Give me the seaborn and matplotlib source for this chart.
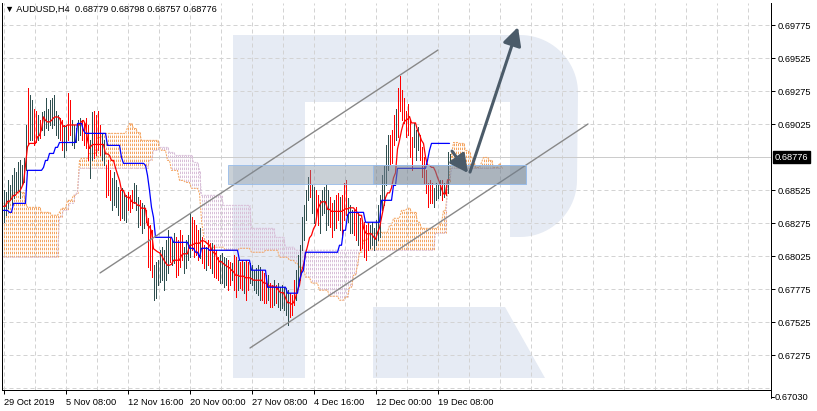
import numpy as np
import pandas as pd
import matplotlib
matplotlib.use("Agg")
import matplotlib.pyplot as plt
import seaborn as sns
from matplotlib.patches import Polygon, Rectangle, FancyArrowPatch
from matplotlib.transforms import blended_transform_factory

# ---------------- data ----------------
symbol_title = "▼ AUDUSD,H4  0.68779 0.68798 0.68757 0.68776"
last_price = 0.68776

high = [0.68524, 0.68508, 0.68599, 0.68561, 0.68637, 0.68690, 0.68660, 0.68735, 0.68750, 0.68713,
        0.68766, 0.69015, 0.69295, 0.69242, 0.69204, 0.69143, 0.69128, 0.69091, 0.69053, 0.69113,
        0.69128, 0.69219, 0.69143, 0.69204, 0.69219, 0.69242, 0.69128, 0.69091, 0.69068, 0.69053,
        0.69015, 0.69015, 0.69264, 0.69204, 0.69053, 0.69015, 0.68992, 0.69053, 0.69068, 0.69053,
        0.69038, 0.69068, 0.69015, 0.68902, 0.69113, 0.69128, 0.69091, 0.69128, 0.69015, 0.68955,
        0.68902, 0.68713, 0.68750, 0.68675, 0.68614, 0.68660, 0.68599, 0.68546, 0.68524, 0.68539,
        0.68501, 0.68486, 0.68508, 0.68486, 0.68524, 0.68577, 0.68561, 0.68471, 0.68448, 0.68425,
        0.68410, 0.68372, 0.68312, 0.68259, 0.68221, 0.67957, 0.67979, 0.67994, 0.68070, 0.68093,
        0.68070, 0.68146, 0.68221, 0.68161, 0.68146, 0.68199, 0.68168, 0.68146, 0.68221, 0.68184,
        0.68093, 0.68146, 0.68184, 0.68350, 0.68319, 0.68297, 0.68259, 0.68221, 0.68236, 0.68168,
        0.68108, 0.68093, 0.68146, 0.68123, 0.68123, 0.68108, 0.68070, 0.68017, 0.68032, 0.68047,
        0.68017, 0.68010, 0.67994, 0.67979, 0.67972, 0.68032, 0.68017, 0.67994, 0.67979, 0.67994,
        0.67979, 0.67994, 0.67979, 0.67972, 0.67957, 0.67919, 0.67934, 0.67957, 0.67941, 0.67919,
        0.67896, 0.67881, 0.67881, 0.67821, 0.67805, 0.67843, 0.67805, 0.67821, 0.67790, 0.67805,
        0.67790, 0.67783, 0.67768, 0.67745, 0.67730, 0.67843, 0.67919, 0.68032, 0.68108, 0.68319,
        0.68410, 0.68524, 0.68622, 0.68675, 0.68561, 0.68546, 0.68524, 0.68486, 0.68448, 0.68524,
        0.68546, 0.68561, 0.68524, 0.68471, 0.68425, 0.68448, 0.68486, 0.68501, 0.68471, 0.68486,
        0.68577, 0.68599, 0.68463, 0.68410, 0.68372, 0.68372, 0.68395, 0.68350, 0.68312, 0.68297,
        0.68282, 0.68259, 0.68274, 0.68259, 0.68282, 0.68236, 0.68297, 0.68410, 0.68486, 0.68637,
        0.68713, 0.68864, 0.68939, 0.68939, 0.68977, 0.69091, 0.69143, 0.69302, 0.69393, 0.69280,
        0.69219, 0.69128, 0.69181, 0.69053, 0.68924, 0.69030, 0.68977, 0.69000, 0.68939, 0.68849,
        0.68773, 0.68675, 0.68577, 0.68599, 0.68577, 0.68539, 0.68577, 0.68561, 0.68599, 0.68599,
        0.68577, 0.68561, 0.68811, 0.68798]

low = [0.68282, 0.68335, 0.68388, 0.68448, 0.68410, 0.68463, 0.68508, 0.68524, 0.68463, 0.68561,
       0.68584, 0.68675, 0.68864, 0.68902, 0.68902, 0.68864, 0.68886, 0.68902, 0.68917, 0.68977,
       0.68939, 0.68992, 0.68977, 0.69015, 0.68992, 0.69015, 0.68939, 0.68917, 0.68902, 0.68826,
       0.68773, 0.68826, 0.68902, 0.68939, 0.68864, 0.68841, 0.68886, 0.68902, 0.68939, 0.68902,
       0.68864, 0.68841, 0.68750, 0.68614, 0.68750, 0.68766, 0.68788, 0.68826, 0.68788, 0.68750,
       0.68713, 0.68471, 0.68486, 0.68448, 0.68372, 0.68410, 0.68395, 0.68335, 0.68297, 0.68312,
       0.68297, 0.68282, 0.68372, 0.68357, 0.68388, 0.68425, 0.68372, 0.68244, 0.68259, 0.68199,
       0.68236, 0.68282, 0.67941, 0.67919, 0.67866, 0.67692, 0.67707, 0.67805, 0.67828, 0.67843,
       0.67768, 0.67843, 0.67896, 0.67979, 0.67957, 0.67972, 0.67866, 0.67881, 0.67941, 0.67994,
       0.67896, 0.67934, 0.67994, 0.68017, 0.68070, 0.68017, 0.68032, 0.67994, 0.68010, 0.67972,
       0.67934, 0.67919, 0.67957, 0.67934, 0.67896, 0.67866, 0.67858, 0.67843, 0.67821, 0.67821,
       0.67790, 0.67805, 0.67768, 0.67805, 0.67843, 0.67768, 0.67715, 0.67768, 0.67783, 0.67768,
       0.67745, 0.67692, 0.67768, 0.67821, 0.67805, 0.67768, 0.67745, 0.67730, 0.67692, 0.67692,
       0.67669, 0.67669, 0.67692, 0.67639, 0.67639, 0.67654, 0.67669, 0.67639, 0.67616, 0.67631,
       0.67616, 0.67579, 0.67503, 0.67563, 0.67579, 0.67654, 0.67692, 0.67790, 0.67843, 0.68070,
       0.68146, 0.68297, 0.68448, 0.68471, 0.68350, 0.68274, 0.68312, 0.68259, 0.68199, 0.68335,
       0.68350, 0.68221, 0.68259, 0.68244, 0.68168, 0.68221, 0.68236, 0.68297, 0.68221, 0.68184,
       0.68297, 0.68335, 0.68282, 0.68199, 0.68199, 0.68184, 0.68146, 0.68108, 0.68070, 0.68085,
       0.68017, 0.67994, 0.68070, 0.68085, 0.68108, 0.68070, 0.68108, 0.68146, 0.68168, 0.68372,
       0.68410, 0.68561, 0.68675, 0.68713, 0.68728, 0.68864, 0.68902, 0.68924, 0.69128, 0.69053,
       0.69030, 0.68924, 0.68939, 0.68773, 0.68675, 0.68849, 0.68750, 0.68826, 0.68750, 0.68622,
       0.68577, 0.68501, 0.68395, 0.68425, 0.68425, 0.68395, 0.68448, 0.68463, 0.68486, 0.68448,
       0.68471, 0.68486, 0.68501, 0.68757]

# bars drawn in the "bear" colour (index of the bar)
bearish_bars = [12, 15, 16, 18, 28, 29, 32, 33, 39, 40, 41, 42, 45, 46, 47, 48, 51, 52, 53, 58,
                62, 63, 64, 68, 71, 72, 73, 74, 83, 86, 87, 88, 89, 94, 95, 96, 97, 99, 100, 102,
                103, 105, 106, 107, 112, 113, 115, 116, 118, 119, 121, 122, 129, 130, 131, 133, 134, 136, 143, 144,
                145, 153, 156, 157, 163, 164, 166, 167, 169, 170, 171, 175, 176, 178, 179, 180, 181, 182, 193, 194,
                195, 197, 198, 199, 200, 201, 202, 203, 204, 208, 209, 210, 211, 212, 213, 214, 219, 221]

# Kijun-sen (step line): bar index where a level starts, level
kijun_bars = [0, 3, 5, 12, 20, 21, 23, 26, 28, 37, 40, 41, 52, 59, 60, 71, 72, 73, 74, 75,
              76, 85, 93, 96, 98, 99, 103, 118, 124, 132, 142, 148, 149, 150, 151, 168, 170, 172, 173, 181,
              189, 195, 197, 212, 213, 214]
kijun_vals = [0.68372, 0.68357, 0.68425, 0.68675, 0.68697, 0.68750, 0.68803, 0.68849, 0.68886, 0.69030,
              0.68977, 0.68955, 0.68864, 0.68773, 0.68728, 0.68713, 0.68637, 0.68524, 0.68395, 0.68319,
              0.68168, 0.68130, 0.68085, 0.68055, 0.68017, 0.68085, 0.68070, 0.67994, 0.67919, 0.67790,
              0.67745, 0.67843, 0.67896, 0.67919, 0.68055, 0.68108, 0.68221, 0.68335, 0.68357, 0.68282,
              0.68448, 0.68561, 0.68690, 0.68750, 0.68826, 0.68879]

# Senkou span A / B (already shifted 26 bars forward)
span_a_bars = [0, 4, 5, 11, 12, 19, 24, 28, 29, 32, 35, 37, 38, 39, 43, 47, 50, 62, 63, 65,
               67, 69, 78, 79, 82, 84, 88, 91, 94, 98, 99, 100, 101, 103, 111, 118, 124, 131, 138, 143,
               146, 148, 151, 154, 158, 163, 168, 171, 173, 175, 177, 178, 180, 183, 189, 193, 195, 199, 202, 204,
               207, 209, 218, 220, 222, 223, 224, 225, 228, 231, 233, 234, 236, 239, 240, 243, 245, 248, 249]
span_a_vals = [0.68425, 0.68486, 0.68508, 0.68425, 0.68395, 0.68357, 0.68335, 0.68357, 0.68388, 0.68448,
               0.68486, 0.68508, 0.68750, 0.68766, 0.68803, 0.68924, 0.68955, 0.69000, 0.69030, 0.68992,
               0.68962, 0.68902, 0.68849, 0.68826, 0.68750, 0.68675, 0.68599, 0.68584, 0.68539, 0.68501,
               0.68297, 0.68184, 0.68123, 0.68093, 0.68070, 0.68085, 0.68055, 0.68070, 0.68017, 0.67994,
               0.67972, 0.67941, 0.67866, 0.67821, 0.67768, 0.67722, 0.67692, 0.67715, 0.67790, 0.67881,
               0.67957, 0.68055, 0.68146, 0.68199, 0.68206, 0.68259, 0.68312, 0.68372, 0.68388, 0.68357,
               0.68282, 0.68236, 0.68274, 0.68372, 0.68524, 0.68637, 0.68788, 0.68886, 0.68879, 0.68826,
               0.68811, 0.68766, 0.68697, 0.68735, 0.68773, 0.68750, 0.68697, 0.68728, 0.68697]
span_b_bars = [0, 28, 30, 33, 36, 38, 73, 75, 78, 83, 86, 95, 98, 99, 110, 124, 136, 141, 146, 216,
               222, 224]
span_b_vals = [0.68017, 0.68319, 0.68372, 0.68425, 0.68501, 0.68690, 0.68750, 0.68826, 0.68849, 0.68811,
               0.68788, 0.68735, 0.68675, 0.68486, 0.68410, 0.68236, 0.68168, 0.68093, 0.68070, 0.68199,
               0.68577, 0.68690]

price_ticks = [0.69775, 0.69525, 0.69275, 0.69025, 0.68525, 0.68275, 0.68025, 0.67775, 0.67525, 0.67275]
bottom_price = 0.67030
time_label_bars = [0, 31, 62, 93, 124, 155, 186, 217]
time_labels = ["29 Oct 2019", "5 Nov 08:00", "12 Nov 16:00", "20 Nov 00:00",
               "27 Nov 08:00", "4 Dec 16:00", "12 Dec 00:00", "19 Dec 08:00"]

# analyst drawings, in (bar, price)
channel_upper = [(48.25, 0.67898), (217.25, 0.69586)]
channel_lower = [(123.25, 0.67330), (292.25, 0.69026)]
zone_outer = [(112.25, 0.68571), (261.25, 0.68715)]
zone_inner = [(184.75, 0.68571), (261.25, 0.68715)]
arrow_down = [(224.25, 0.68821), (232.25, 0.68655)]
arrow_up = [(233.25, 0.68662), (257.25, 0.69760)]

# ---------------- figure ----------------
sns.set_theme(style="white")
plt.rcParams["font.family"] = ["Liberation Sans", "DejaVu Sans"]
FS = 6.7

W, H = 817, 411
fig = plt.figure(figsize=(W / 100, H / 100), dpi=100)
fig.patch.set_facecolor("white")

# watermark (pixel coordinates)
bg = fig.add_axes([0, 0, 1, 1], zorder=0)
bg.set_xlim(0, W)
bg.set_ylim(H, 0)
bg.axis("off")
wm = "#e6ebf4"


def arc(cx, cy, r, a0, a1, n=24):
    t = np.radians(np.linspace(a0, a1, n))
    return np.column_stack([cx + r * np.cos(t), cy + r * np.sin(t)])


body = np.vstack([[[233, 35]], arc(520, 93, 58, -90, 0), arc(520, 180, 57, 0, 90),
                  [[510, 237], [510, 102], [305, 102], [305, 378], [233, 378]]])
bg.add_patch(Polygon(body, closed=True, facecolor=wm, edgecolor="none"))
bg.add_patch(Polygon([[373, 307], [505, 307], [545, 378], [373, 378]], closed=True,
                     facecolor=wm, edgecolor="none"))

L, R, T, B = 2, 771, 3, 390
ax = fig.add_axes([L / W, 1 - B / H, (R - L) / W, (B - T) / H], zorder=1)
ax.patch.set_alpha(0)
n = len(high)
bars = np.arange(n)
ax.set_xlim(-0.75, -0.75 + (R - L) / 2)
ylo, yhi = 0.67012, 0.69942
ax.set_ylim(ylo, yhi)

# grid
grid_kw = dict(color="#d3d3d3", lw=0.72, linestyle=(0, (4, 3)), zorder=0.5)
for p in price_ticks + [bottom_price]:
    ax.axhline(p, **grid_kw)
for g in np.arange(0, 384, 15.5):
    ax.axvline(g, **grid_kw)
ax.axhline(last_price, color="#cccccc", lw=0.72, zorder=0.8)


def hold(idx, vals, length):
    s = pd.Series(np.nan, index=np.arange(length))
    s.loc[idx] = vals
    return s.ffill().to_numpy()


# ichimoku cloud
n_span = n + 26
span_a = hold(span_a_bars, span_a_vals, n_span)
span_b = hold(span_b_bars, span_b_vals, n_span)
js = np.arange(n_span)
up = np.maximum(span_a, span_b)
lo = np.minimum(span_a, span_b)
px_per_v = (B - T) / (yhi - ylo)
period = 4.0
offs = ((lo - ylo) * px_per_v) % period
orange, thistle = "#f4a460", "#d8bfd8"
cloud_cols = np.where(span_a >= span_b, orange, thistle)
ax.vlines(js, lo, up, colors=cloud_cols, linestyles=[(o, (2.5, 1.5)) for o in offs],
          lw=0.72, zorder=1, antialiased=True)
sns.lineplot(x=js, y=span_a, ax=ax, color=orange, lw=0.72, linestyle=(0, (2, 1)),
             estimator=None, sort=False, zorder=1.5)
sns.lineplot(x=js, y=span_b, ax=ax, color=thistle, lw=0.72, linestyle=(0, (2, 1)),
             estimator=None, sort=False, zorder=1.5)

# price bars
bar_cols = np.where(np.isin(bars, bearish_bars), "#ff0000", "#2f4f4f")
ax.vlines(bars, low, high, colors=bar_cols, lw=0.72, zorder=2, antialiased=False)

# tenkan / kijun
hs, ls_ = pd.Series(high), pd.Series(low)
tenkan = ((hs.rolling(9, min_periods=1).max() + ls_.rolling(9, min_periods=1).min()) / 2).to_numpy()
kijun = hold(kijun_bars, kijun_vals, n)
sns.lineplot(x=bars, y=tenkan, ax=ax, color="#ff0000", lw=0.9, estimator=None, sort=False, zorder=3)
sns.lineplot(x=bars, y=kijun, ax=ax, color="#0000ff", lw=0.9, estimator=None, sort=False, zorder=3)

# channel
for ch in (channel_upper, channel_lower):
    ax.plot([ch[0][0], ch[1][0]], [ch[0][1], ch[1][1]], color="#888888", lw=1.0, zorder=4)

# zone (two overlapping rectangles)
for z, fc in ((zone_outer, (0.48, 0.54, 0.60, 0.40)), (zone_inner, (0.40, 0.46, 0.52, 0.30))):
    ax.add_patch(Rectangle(z[0], z[1][0] - z[0][0], z[1][1] - z[0][1],
                           facecolor=fc, edgecolor=(0.60, 0.74, 0.92, 0.9),
                           lw=0.7, zorder=5))

# arrows
for a in (arrow_down, arrow_up):
    ax.add_patch(FancyArrowPatch(a[0], a[1], arrowstyle="-|>,head_length=0.55,head_width=0.28",
                                 mutation_scale=20, color="#4b5b69", lw=2.2,
                                 shrinkA=0, shrinkB=0, zorder=6))

# axes styling
ax.spines["top"].set_visible(False)
for s in ("left", "bottom", "right"):
    ax.spines[s].set_color("black")
    ax.spines[s].set_linewidth(0.72)
ax.yaxis.tick_right()
ax.set_yticks(price_ticks)
ax.set_yticklabels([f"{p:.5f}" for p in price_ticks])
ax.tick_params(axis="y", right=True, left=False, direction="out", length=3, width=0.72,
               colors="black", labelsize=FS, pad=2)
ax.set_xticks(time_label_bars)
ax.set_xticklabels(time_labels, ha="left")
ax.tick_params(axis="x", bottom=True, direction="out", length=3, width=0.72,
               colors="black", labelsize=FS, pad=3)
ax.set_xlabel("")
ax.set_ylabel("")

# current price tag
tr = blended_transform_factory(ax.transAxes, ax.transData)
ax.text((775 - L) / (R - L), last_price, f"{last_price:.5f}", transform=tr, color="white",
        fontsize=FS, va="center", ha="left", clip_on=False,
        bbox=dict(boxstyle="square,pad=0.2", fc="black", ec="black"))

# bottom price label (below axis, as in the terminal)
bg.plot([R + 0.5, R + 0.5], [B, 398], color="black", lw=0.72)
bg.plot([R, R + 3], [397, 397], color="black", lw=0.72)
bg.text(775, 397, f"{bottom_price:.5f}", fontsize=FS, va="center", ha="left", color="black")

fig.text(5 / W, 1 - 9 / H, symbol_title, fontsize=FS, va="center", ha="left", color="black")

fig.savefig("out.png", dpi=100)
